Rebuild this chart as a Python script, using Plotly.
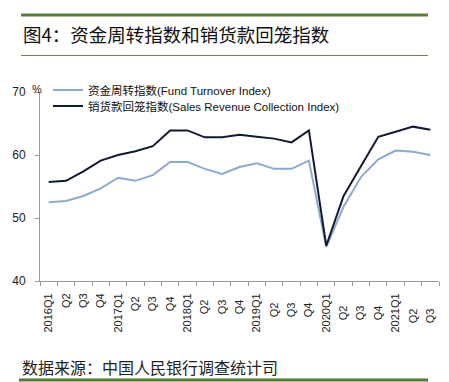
import plotly.graph_objects as go

quarters = ["2016Q1", "Q2", "Q3", "Q4", "2017Q1", "Q2 ", "Q3 ", "Q4 ", "2018Q1", "Q2  ", "Q3  ", "Q4  ",
            "2019Q1", "Q2   ", "Q3   ", "Q4   ", "2020Q1", "Q2    ", "Q3    ", "Q4    ", "2021Q1", "Q2     ", "Q3     "]
fund_turnover = [52.5, 52.7, 53.5, 54.7, 56.4, 55.9, 56.8, 58.9, 58.9, 57.8, 57.0, 58.1,
                 58.7, 57.8, 57.8, 59.1, 45.4, 51.8, 56.5, 59.3, 60.7, 60.5, 60.0]
sales_collection = [55.7, 55.9, 57.4, 59.1, 60.0, 60.6, 61.4, 63.9, 63.9, 62.8, 62.8, 63.2,
                    62.9, 62.6, 62.0, 63.9, 45.6, 53.5, 58.2, 62.9, 63.7, 64.5, 64.0]
y_ticks = [40, 50, 60, 70]

W, H = 449, 382
L, R, T, B = 40, 439, 92, 281


def px(x):
    return (x - L) / (R - L)


def py(y):
    return (B - y) / (B - T)


fig = go.Figure()
fig.add_trace(go.Scatter(x=quarters, y=fund_turnover, mode="lines",
                         name="资金周转指数(Fund Turnover Index)", legend="legend",
                         line=dict(color="#8FA8CF", width=2)))
fig.add_trace(go.Scatter(x=quarters, y=sales_collection, mode="lines",
                         name="销货款回笼指数(Sales Revenue Collection Index)", legend="legend2",
                         line=dict(color="#101A30", width=2)))

legend_font = dict(size=11.5, family="Liberation Sans, Noto Sans CJK SC", color="#111")
fig.update_layout(
    width=W, height=H,
    margin=dict(l=L, r=W - R, t=T, b=H - B, pad=0),
    paper_bgcolor="white", plot_bgcolor="white",
    font=dict(family="Liberation Sans, Noto Sans CJK SC", size=12, color="#222"),
    showlegend=True,
    legend=dict(x=px(48), y=py(90), xanchor="left", yanchor="middle",
                bgcolor="rgba(0,0,0,0)", font=legend_font, itemwidth=30),
    legend2=dict(x=px(48), y=py(106), xanchor="left", yanchor="middle",
                 bgcolor="rgba(0,0,0,0)", font=legend_font, itemwidth=30),
    xaxis=dict(type="category", tickson="boundaries", ticks="outside", ticklen=4,
               tickcolor="#999", showline=True, linecolor="#999", linewidth=1,
               showgrid=False, tickangle=-90, tickfont=dict(size=11, color="#222"),
               ticklabelstandoff=7,
               range=[-0.5, len(quarters) - 0.5]),
    yaxis=dict(range=[40, 70], tickvals=y_ticks, ticks="outside", ticklen=4,
               tickcolor="#999", showline=True, linecolor="#999", linewidth=1,
               showgrid=False, zeroline=False, tickfont=dict(size=12, color="#222"),
               ticklabelstandoff=7),
)

fig.add_annotation(xref="paper", yref="paper", x=px(21), y=py(34), xanchor="left",
                   yanchor="middle", showarrow=False,
                   text="图4：资金周转指数和销货款回笼指数",
                   font=dict(size=18.5, family="Noto Sans CJK SC", color="#111"))
fig.add_annotation(xref="paper", yref="paper", x=px(30), y=py(89), xanchor="left",
                   yanchor="middle", showarrow=False, text="%",
                   font=dict(size=11, color="#222"))
fig.add_annotation(xref="paper", yref="paper", x=px(20), y=py(367), xanchor="left",
                   yanchor="middle", showarrow=False,
                   text="数据来源：中国人民银行调查统计司",
                   font=dict(size=16, family="Noto Sans CJK SC", color="#222"))

fig.add_shape(type="line", xref="paper", yref="paper", x0=px(21), x1=px(428),
              y0=py(15), y1=py(15), line=dict(color="#5A7D3C", width=3))
fig.add_shape(type="line", xref="paper", yref="paper", x0=px(21), x1=px(428),
              y0=py(55.5), y1=py(55.5), line=dict(color="#6E8257", width=1))
fig.add_shape(type="line", xref="paper", yref="paper", x0=px(19), x1=px(428),
              y0=py(380), y1=py(380), line=dict(color="#4F7E2C", width=3))

fig.write_html("out.html", config={"displayModeBar": False},
               post_script="document.body.style.margin='0';")
